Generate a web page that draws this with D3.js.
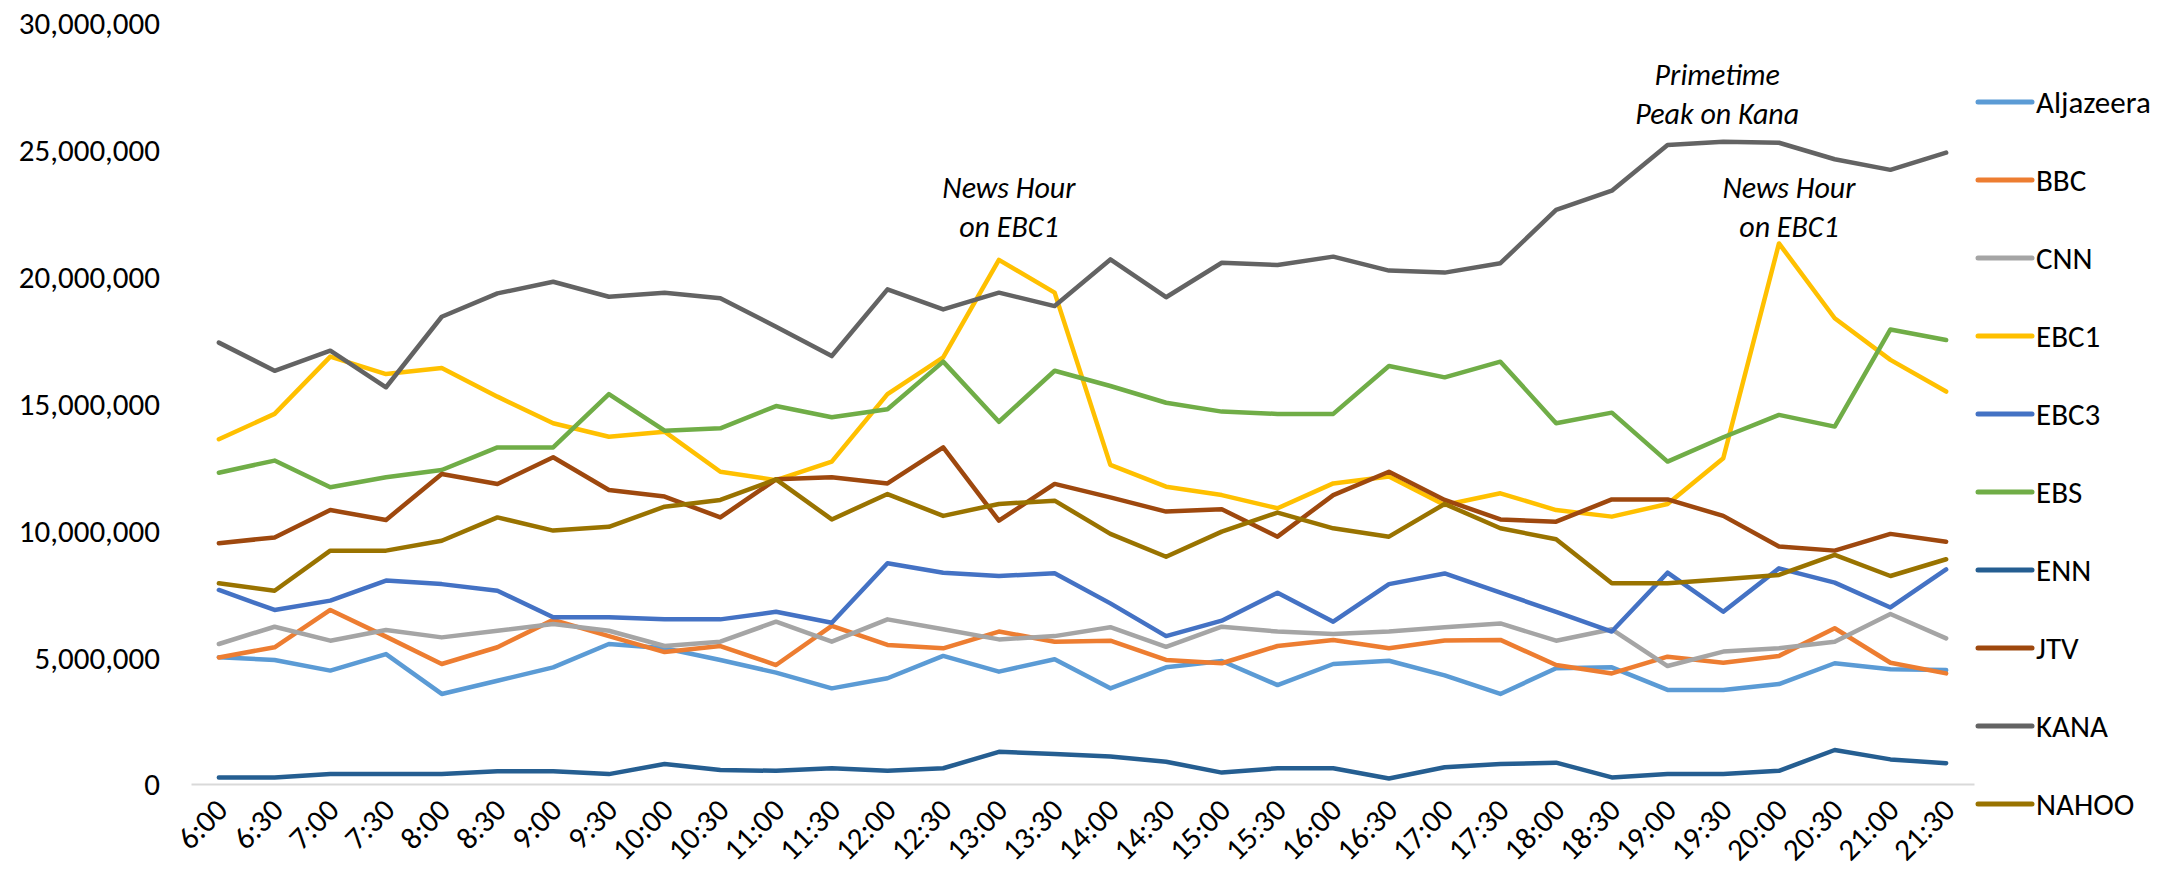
<!DOCTYPE html>
<html>
<head>
<meta charset="utf-8">
<script src="https://cdnjs.cloudflare.com/ajax/libs/d3/7.8.5/d3.min.js"></script>
<style>
  body { margin: 0; background: #fff; }
  svg text { font-family: Carlito, Calibri, 'Liberation Sans Narrow', 'Open Sans', sans-serif; fill: #000; }
</style>
</head>
<body>
<svg id="chart" width="2159" height="876"></svg>
<script>
// Time slots (x axis)
const times = ['6:00','6:30','7:00','7:30','8:00','8:30','9:00','9:30','10:00','10:30',
    '11:00','11:30','12:00','12:30','13:00','13:30','14:00','14:30','15:00','15:30',
    '16:00','16:30','17:00','17:30','18:00','18:30','19:00','19:30','20:00','20:30',
    '21:00','21:30'];

// Viewers per channel, in millions
const aljazeera = [5.00,4.89,4.47,5.12,3.55,4.07,4.60,5.52,5.35,4.89,4.39,3.77,4.17,5.05,4.43,4.92,
    3.77,4.60,4.85,3.90,4.73,4.86,4.28,3.55,4.56,4.60,3.71,3.71,3.94,4.76,4.52,4.49];
const bbc = [4.99,5.39,6.86,5.81,4.73,5.39,6.47,5.83,5.20,5.44,4.69,6.23,5.48,5.35,6.01,5.61,
    5.65,4.89,4.76,5.44,5.68,5.35,5.66,5.68,4.69,4.36,5.02,4.78,5.05,6.14,4.78,4.36];
const cnn = [5.52,6.20,5.65,6.07,5.78,6.04,6.31,6.04,5.44,5.61,6.40,5.61,6.49,6.10,5.70,5.83,
    6.18,5.41,6.20,6.01,5.91,6.01,6.18,6.33,5.65,6.10,4.65,5.22,5.35,5.61,6.70,5.74];
const ebc1 = [13.59,14.59,16.85,16.16,16.40,15.27,14.22,13.69,13.89,12.31,11.98,12.71,15.37,16.82,20.66,19.37,
    12.58,11.72,11.39,10.87,11.85,12.12,11.00,11.46,10.80,10.54,11.04,12.84,21.31,18.36,16.72,15.47];
const ebc3 = [7.65,6.86,7.23,8.02,7.88,7.62,6.57,6.57,6.49,6.49,6.79,6.36,8.70,8.33,8.20,8.31,
    7.12,5.83,6.44,7.54,6.40,7.88,8.30,7.54,6.79,6.01,8.33,6.79,8.50,7.94,6.96,8.46];
const ebs = [12.27,12.75,11.70,12.09,12.38,13.27,13.27,15.37,13.93,14.02,14.90,14.46,14.77,16.65,14.28,16.29,
    15.69,15.03,14.68,14.59,14.59,16.48,16.03,16.65,14.22,14.64,12.71,13.67,14.55,14.09,17.92,17.50];
const enn = [0.26,0.26,0.39,0.39,0.39,0.50,0.50,0.39,0.79,0.55,0.52,0.62,0.52,0.62,1.27,1.18,
    1.08,0.88,0.45,0.62,0.62,0.22,0.66,0.79,0.84,0.26,0.39,0.39,0.52,1.34,0.97,0.82];
const jtv = [9.49,9.72,10.80,10.41,12.22,11.83,12.88,11.59,11.33,10.51,12.01,12.09,11.85,13.27,10.38,11.83,
    11.30,10.74,10.83,9.75,11.39,12.31,11.20,10.43,10.34,11.22,11.22,10.57,9.36,9.20,9.86,9.55];
const kana = [17.40,16.29,17.08,15.64,18.42,19.34,19.80,19.21,19.37,19.15,18.03,16.87,19.50,18.71,19.37,18.84,
    20.68,19.19,20.55,20.46,20.79,20.24,20.16,20.53,22.63,23.39,25.19,25.32,25.28,24.63,24.21,24.89];
const nahoo = [7.91,7.62,9.20,9.20,9.59,10.51,9.99,10.14,10.93,11.20,12.01,10.43,11.43,10.57,11.04,11.17,
    9.86,8.96,9.95,10.70,10.08,9.75,11.04,10.08,9.65,7.91,7.91,8.07,8.24,9.03,8.20,8.86];

const channels = ['Aljazeera','BBC','CNN','EBC1','EBC3','EBS','ENN','JTV','KANA','NAHOO'];
const channelValues = [aljazeera, bbc, cnn, ebc1, ebc3, ebs, enn, jtv, kana, nahoo];
const channelColors = ['#5B9BD5','#ED7D31','#A5A5A5','#FFC000','#4472C4','#70AD47','#255E91','#9E480E','#636363','#997300'];

const yTicks = [0, 5e6, 10e6, 15e6, 20e6, 25e6, 30e6];

// Annotations: text lines, anchored to a time slot and a value
const noteLines = [['News Hour', 'on EBC1'], ['Primetime', 'Peak on Kana'], ['News Hour', 'on EBC1']];
const noteTimes = ['13:00', '19:30', '20:00'];
const noteValues = [23.1e6, 27.55e6, 23.1e6];

var viz = {};
viz.svg = d3.select('#chart');

viz.svg.append('rect')
    .attr('width', 2159)
    .attr('height', 876)
    .attr('fill', '#fff');

// Set scales
viz.x = d3.scalePoint()
    .domain(times)
    .range([191, 1974])
    .padding(0.5);
viz.y = d3.scaleLinear()
    .domain([0, 30e6])
    .range([784, 23]);

// Y axis (labels only)
viz.yAxis = viz.svg.append('g')
    .attr('transform', 'translate(191,0)')
    .call(d3.axisLeft(viz.y).tickValues(yTicks).tickFormat(d3.format(',')).tickSize(0).tickPadding(31));
viz.yAxis.select('.domain').remove();
viz.yAxis.selectAll('text')
    .attr('font-size', '31px')
    .attr('dy', '0.35em');

// X axis
viz.xAxis = viz.svg.append('g')
    .attr('transform', 'translate(0,784)')
    .call(d3.axisBottom(viz.x).tickSize(0).tickSizeOuter(0));
viz.xAxis.select('.domain')
    .attr('stroke', '#d9d9d9')
    .attr('stroke-width', 2);
viz.xAxis.selectAll('text')
    .attr('font-size', '31px')
    .attr('text-anchor', 'end')
    .attr('dy', 0)
    .attr('y', 0)
    .attr('transform', 'translate(10,28) rotate(-45)');

// Lines
viz.line = d3.line()
    .x((d, i) => viz.x(times[i]))
    .y(d => viz.y(d * 1e6));

viz.svg.append('g')
    .selectAll('path')
    .data(channelValues)
    .enter()
    .append('path')
        .attr('fill', 'none')
        .attr('stroke', (d, i) => channelColors[i])
        .attr('stroke-width', 4.5)
        .attr('stroke-linejoin', 'round')
        .attr('stroke-linecap', 'round')
        .attr('d', d => viz.line(d));

// Annotations
noteLines.forEach((lines, n) => {
    var t = viz.svg.append('text')
        .attr('text-anchor', 'middle')
        .attr('font-size', '30px')
        .attr('font-style', 'italic');
    lines.forEach((s, k) => {
        t.append('tspan')
            .attr('x', viz.x(noteTimes[n]) + (n === 1 ? -6 : 10))
            .attr('y', viz.y(noteValues[n]) + k * 39)
            .text(s);
    });
});

// Legend
viz.legend = viz.svg.append('g')
    .attr('transform', 'translate(1978,102)');
viz.legendItems = viz.legend.selectAll('g')
    .data(channels)
    .enter()
    .append('g')
        .attr('transform', (d, i) => 'translate(0,' + (i * 78) + ')');
viz.legendItems.append('line')
    .attr('x1', 0)
    .attr('x2', 54)
    .attr('stroke', (d, i) => channelColors[i])
    .attr('stroke-width', 5)
    .attr('stroke-linecap', 'round');
viz.legendItems.append('text')
    .attr('x', 58)
    .attr('dy', '0.35em')
    .attr('font-size', '31px')
    .text(d => d);
</script>
</body>
</html>
